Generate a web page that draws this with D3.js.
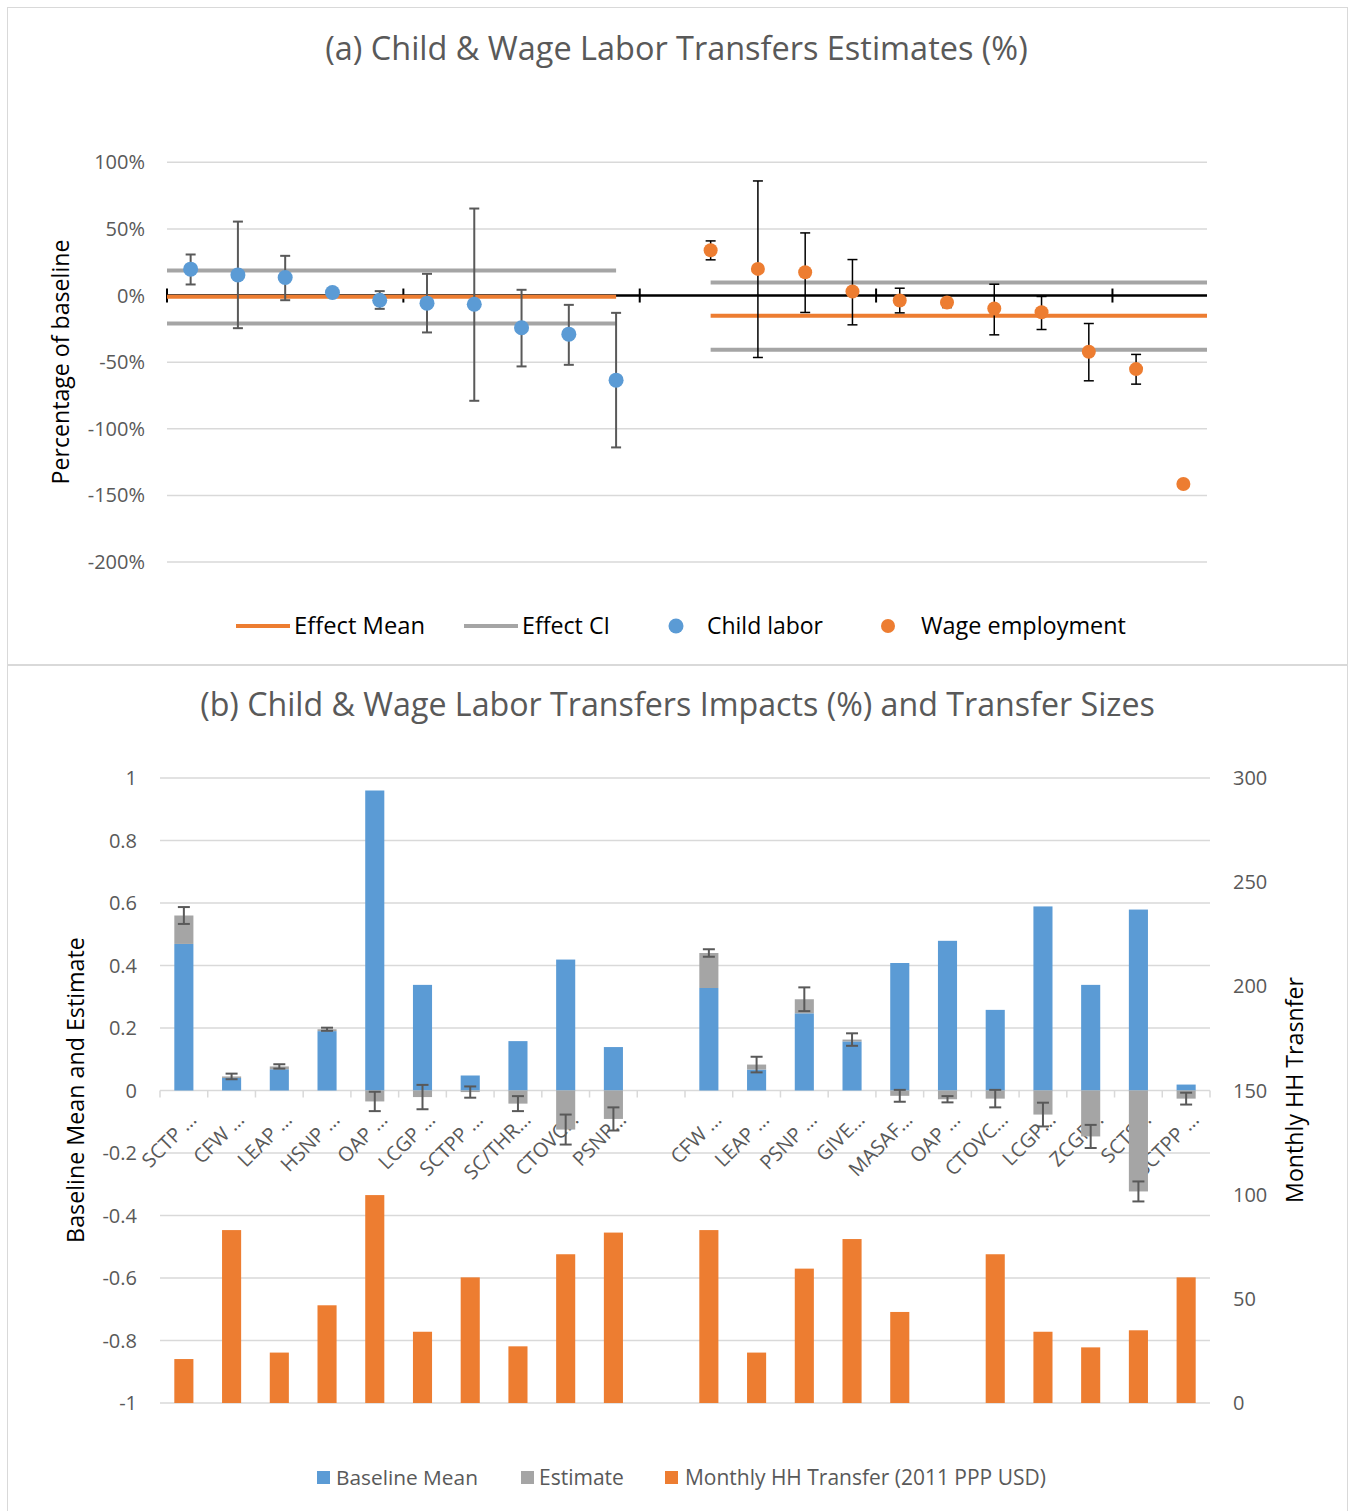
<!DOCTYPE html>
<html>
<head>
<meta charset="utf-8">
<script src="https://cdn.jsdelivr.net/npm/d3@7/dist/d3.min.js"></script>
<style>
	body { margin: 0; background: #fff; }
	svg { display: block; }
	text { font-family: "Open Sans", sans-serif; }
</style>
</head>
<body>
<div id="chart"></div>
<script>
// (a) effects, % of baseline
var childLabor = [19.8, 15.5, 13.5, 2.3, -3.5, -5.7, -6.5, -24.2, -29, -63.5];
var childHigh = [30.8, 55.5, 29.8, null, 3.3, 16.3, 65.3, 4.3, -7, -13];
var childLow = [8.3, -24.5, -3.5, null, -10, -27.7, -79, -53.2, -52, -114];
var wageEmp = [34, 20, 17.5, 3, -3.7, -5.2, -9.7, -12.5, -42.2, -55.2, -141.5];
var wageHigh = [41, 86, 47, 27, 5.5, -2.5, 8.5, -0.7, -21, -44.2, null];
var wageLow = [26.8, -46.5, -12.7, -22, -13, -9, -29.5, -25.5, -64, -66.5, null];
var effectMean = [-1, -15.2];
var effectLow = [-21, -40.7];
var effectHigh = [18.8, 9.8];
var pctTicks = [100, 50, 0, -50, -100, -150, -200];

// (b) baseline means, estimates and transfer sizes
var programs = ["SCTP …", "CFW …", "LEAP …", "HSNP …", "OAP …", "LCGP …", "SCTPP …", "SC/THR…", "CTOVC…", "PSNP…", "",
	"CFW …", "LEAP …", "PSNP …", "GIVE…", "MASAF…", "OAP …", "CTOVC…", "LCGP…", "ZCGP…", "SCTS…", "SCTPP …"];
var baselineMean = [0.469, 0.04, 0.068, 0.19, 0.96, 0.338, 0.048, 0.158, 0.419, 0.139, null,
	0.328, 0.067, 0.247, 0.157, 0.408, 0.479, 0.258, 0.589, 0.338, 0.579, 0.019];
var estimate = [0.091, 0.005, 0.009, 0.006, -0.035, -0.021, -0.005, -0.042, -0.125, -0.091, null,
	0.112, 0.016, 0.045, 0.006, -0.017, -0.028, -0.026, -0.077, -0.147, -0.323, -0.026];
var estimateErr = [0.027, 0.009, 0.007, 0.005, 0.031, 0.039, 0.018, 0.024, 0.048, 0.037, null,
	0.012, 0.025, 0.038, 0.02, 0.019, 0.01, 0.028, 0.038, 0.037, 0.032, 0.019];
var monthlyTransfer = [21.1, 83, 24.2, 46.9, 99.8, 34.2, 60.3, 27.2, 71.4, 81.8, null,
	83, 24.2, 64.5, 78.7, 43.7, null, 71.4, 34.2, 26.7, 34.9, 60.3];
var leftTicks = [1, 0.8, 0.6, 0.4, 0.2, 0, -0.2, -0.4, -0.6, -0.8, -1];
var rightTicks = [300, 250, 200, 150, 100, 50, 0];

var blue = "#5B9BD5", orange = "#ED7D31", gray = "#A5A5A5", grid = "#D9D9D9", dark = "#595959";

var svg = d3.select("#chart").append("svg")
	.attr("width", 1356)
	.attr("height", 1511);

// shrink / grow a label so it spans the width it has in the picture
function fit(sel, w) {
	var fs = parseFloat(sel.attr("font-size"));
	sel.attr("font-size", fs * w / sel.node().getComputedTextLength());
	return sel;
}

// panel frames
svg.append("rect").attr("x", 7.5).attr("y", 7.5).attr("width", 1340).attr("height", 657)
	.attr("fill", "none").attr("stroke", grid);
svg.append("rect").attr("x", 7.5).attr("y", 665.5).attr("width", 1340).attr("height", 860)
	.attr("fill", "none").attr("stroke", grid);

/* ---------- (a) ---------- */
var xa = d3.scaleBand().domain(d3.range(22)).range([167, 1207]);
var ya = d3.scaleLinear().domain([-200, 100]).range([562, 162.3]);
function ca(i) { return xa(i) + xa.bandwidth() / 2; }

var ga = svg.append("g");

fit(ga.append("text").attr("x", 676.5).attr("y", 60).attr("text-anchor", "middle")
	.attr("font-size", 26).attr("fill", dark)
	.text("(a) Child & Wage Labor Transfers Estimates (%)"), 703);

ga.selectAll(".grid").data(pctTicks).enter().append("line")
	.attr("x1", 167).attr("x2", 1207)
	.attr("y1", ya).attr("y2", ya)
	.attr("stroke", grid).attr("stroke-width", 1.5);

ga.selectAll(".tick").data(pctTicks).enter().append("text")
	.attr("x", 145).attr("y", function(d) { return ya(d) + 7; })
	.attr("text-anchor", "end").attr("font-size", 20).attr("fill", dark)
	.text(function(d) { return d + "%"; });

fit(ga.append("text").attr("transform", "translate(69,362) rotate(-90)")
	.attr("text-anchor", "middle").attr("font-size", 21).attr("fill", "#000")
	.text("Percentage of baseline"), 245);

// zero axis with a mark every 5 categories
ga.append("line").attr("x1", 167).attr("x2", 1207).attr("y1", ya(0)).attr("y2", ya(0))
	.attr("stroke", "#000").attr("stroke-width", 2.5);
ga.selectAll(".mark").data([0, 5, 10, 15, 20]).enter().append("line")
	.attr("x1", xa).attr("x2", xa)
	.attr("y1", ya(0) - 7).attr("y2", ya(0) + 7)
	.attr("stroke", "#000").attr("stroke-width", 2);

// effect lines: child labor spans the left group, wage employment the right
var spans = [[167, ca(9)], [ca(11), 1207]];
[effectHigh, effectLow].forEach(function(arr) {
	arr.forEach(function(v, k) {
		ga.append("line").attr("x1", spans[k][0]).attr("x2", spans[k][1])
			.attr("y1", ya(v)).attr("y2", ya(v))
			.attr("stroke", gray).attr("stroke-width", 4);
	});
});
effectMean.forEach(function(v, k) {
	ga.append("line").attr("x1", spans[k][0]).attr("x2", spans[k][1])
		.attr("y1", ya(v)).attr("y2", ya(v))
		.attr("stroke", orange).attr("stroke-width", 4);
});

function errorBars(g, xs, hi, lo, color, cap, width) {
	xs.forEach(function(x, i) {
		if (hi[i] == null) return;
		var e = g.append("g").attr("stroke", color).attr("stroke-width", width);
		e.append("line").attr("x1", x).attr("x2", x).attr("y1", hi[i]).attr("y2", lo[i]);
		e.append("line").attr("x1", x - cap).attr("x2", x + cap).attr("y1", hi[i]).attr("y2", hi[i]);
		e.append("line").attr("x1", x - cap).attr("x2", x + cap).attr("y1", lo[i]).attr("y2", lo[i]);
	});
}

var childX = childLabor.map(function(d, i) { return ca(i); });
var wageX = wageEmp.map(function(d, i) { return ca(i + 11); });

errorBars(ga, childX,
	childHigh.map(function(d) { return d == null ? null : ya(d); }),
	childLow.map(function(d) { return d == null ? null : ya(d); }), dark, 5, 2);
errorBars(ga, wageX,
	wageHigh.map(function(d) { return d == null ? null : ya(d); }),
	wageLow.map(function(d) { return d == null ? null : ya(d); }), "#000", 5, 1.5);

ga.selectAll(".child").data(childLabor).enter().append("circle")
	.attr("cx", function(d, i) { return childX[i]; })
	.attr("cy", ya).attr("r", 7.5).attr("fill", blue);
ga.selectAll(".wage").data(wageEmp).enter().append("circle")
	.attr("cx", function(d, i) { return wageX[i]; })
	.attr("cy", ya).attr("r", 7).attr("fill", orange);

// legend (a)
var la = ga.append("g");
la.append("line").attr("x1", 236).attr("x2", 290).attr("y1", 626).attr("y2", 626)
	.attr("stroke", orange).attr("stroke-width", 4);
la.append("line").attr("x1", 464).attr("x2", 518).attr("y1", 626).attr("y2", 626)
	.attr("stroke", gray).attr("stroke-width", 4);
la.append("circle").attr("cx", 676).attr("cy", 626).attr("r", 7.5).attr("fill", blue);
la.append("circle").attr("cx", 888).attr("cy", 626).attr("r", 7).attr("fill", orange);
[["Effect Mean", 294, 131], ["Effect CI", 522, 88], ["Child labor", 707, 116], ["Wage employment", 921, 205]]
	.forEach(function(d) {
		fit(la.append("text").attr("x", d[1]).attr("y", 634).attr("font-size", 21)
			.attr("fill", "#000").text(d[0]), d[2]);
	});

/* ---------- (b) ---------- */
var xb = d3.scaleBand().domain(d3.range(22)).range([160, 1210]).paddingInner(0.6).paddingOuter(0.3);
var yl = d3.scaleLinear().domain([-1, 1]).range([1403, 778]);
var yr = d3.scaleLinear().domain([0, 300]).range([1403, 778]);
function cb(i) { return xb(i) + xb.bandwidth() / 2; }
var step = xb.step();

var gb = svg.append("g");

fit(gb.append("text").attr("x", 677.5).attr("y", 716).attr("text-anchor", "middle")
	.attr("font-size", 26).attr("fill", dark)
	.text("(b) Child & Wage Labor Transfers Impacts (%) and Transfer Sizes"), 955);

gb.selectAll(".grid").data(leftTicks).enter().append("line")
	.attr("x1", 160).attr("x2", 1210)
	.attr("y1", yl).attr("y2", yl)
	.attr("stroke", grid).attr("stroke-width", 1.5);

gb.selectAll(".lt").data(leftTicks).enter().append("text")
	.attr("x", 137).attr("y", function(d) { return yl(d) + 7; })
	.attr("text-anchor", "end").attr("font-size", 20).attr("fill", dark)
	.text(function(d) { return String(d); });
gb.selectAll(".rt").data(rightTicks).enter().append("text")
	.attr("x", 1233).attr("y", function(d) { return yr(d) + 7; })
	.attr("text-anchor", "start").attr("font-size", 20).attr("fill", dark)
	.text(function(d) { return d; });

fit(gb.append("text").attr("transform", "translate(84,1090) rotate(-90)")
	.attr("text-anchor", "middle").attr("font-size", 21).attr("fill", "#000")
	.text("Baseline Mean and Estimate"), 306);
fit(gb.append("text").attr("transform", "translate(1303,1090) rotate(-90)")
	.attr("text-anchor", "middle").attr("font-size", 21).attr("fill", "#000")
	.text("Monthly HH Trasnfer"), 226);

// category axis at zero, a tick between every category
gb.selectAll(".ct").data(d3.range(23)).enter().append("line")
	.attr("x1", function(i) { return 160 + i * step; })
	.attr("x2", function(i) { return 160 + i * step; })
	.attr("y1", yl(0)).attr("y2", yl(0) + 7)
	.attr("stroke", grid).attr("stroke-width", 1.5);

gb.selectAll(".cl").data(programs).enter().append("text")
	.attr("transform", function(d, i) { return "translate(" + (cb(i) + 14) + ",1121) rotate(-45)"; })
	.attr("text-anchor", "end").attr("font-size", 20).attr("fill", dark)
	.text(function(d) { return d; });

// transfer sizes on the right axis
monthlyTransfer.forEach(function(v, i) {
	if (v == null) return;
	gb.append("rect").attr("x", xb(i)).attr("width", xb.bandwidth())
		.attr("y", yr(v)).attr("height", yr(0) - yr(v)).attr("fill", orange);
});

// stacked baseline + estimate
baselineMean.forEach(function(v, i) {
	if (v == null) return;
	gb.append("rect").attr("x", xb(i)).attr("width", xb.bandwidth())
		.attr("y", yl(v)).attr("height", yl(0) - yl(v)).attr("fill", blue);
	var e = estimate[i], lo = e >= 0 ? v : 0, hi = lo + e;
	gb.append("rect").attr("x", xb(i)).attr("width", xb.bandwidth())
		.attr("y", yl(Math.max(lo, hi))).attr("height", Math.abs(yl(lo) - yl(hi)))
		.attr("fill", gray);
});
var endX = [], endHi = [], endLo = [];
baselineMean.forEach(function(v, i) {
	if (v == null) return;
	var e = estimate[i], end = e >= 0 ? v + e : e;
	endX.push(cb(i));
	endHi.push(yl(end + estimateErr[i]));
	endLo.push(yl(end - estimateErr[i]));
});
errorBars(gb, endX, endHi, endLo, dark, 6, 2);

// legend (b)
var lb = gb.append("g");
[[blue, 317, "Baseline Mean", 336, 142], [gray, 521, "Estimate", 539, 85], [orange, 665, "Monthly HH Transfer (2011 PPP USD)", 685, 361]]
	.forEach(function(d) {
		lb.append("rect").attr("x", d[1]).attr("y", 1471).attr("width", 13).attr("height", 13).attr("fill", d[0]);
		fit(lb.append("text").attr("x", d[3]).attr("y", 1485).attr("font-size", 19)
			.attr("fill", dark).text(d[2]), d[4]);
	});
</script>
</body>
</html>
